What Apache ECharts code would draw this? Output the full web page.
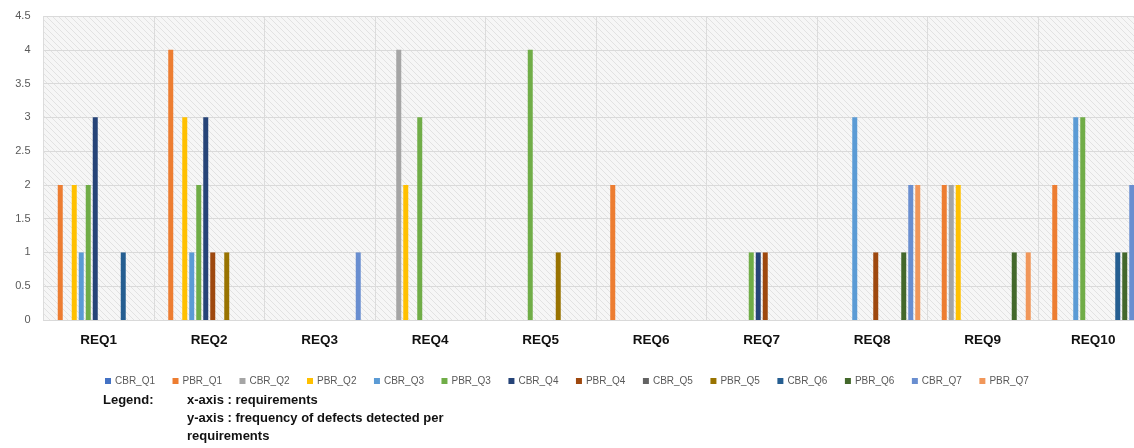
<!DOCTYPE html>
<html>
<head>
<meta charset="utf-8">
<script src="https://cdn.jsdelivr.net/npm/echarts@6/dist/echarts.min.js"></script>
<style>
html,body{margin:0;padding:0;background:#fff;overflow:hidden;}
#chart{width:1150px;height:448px;}
</style>
</head>
<body>
<div id="chart"></div>
<script>
const categories = ['REQ1','REQ2','REQ3','REQ4','REQ5','REQ6','REQ7','REQ8','REQ9','REQ10'];
const seriesNames = ['CBR_Q1','PBR_Q1','CBR_Q2','PBR_Q2','CBR_Q3','PBR_Q3','CBR_Q4','PBR_Q4','CBR_Q5','PBR_Q5','CBR_Q6','PBR_Q6','CBR_Q7','PBR_Q7'];
const seriesColors = ['#4472C4','#ED7D31','#A5A5A5','#FFC000','#5B9BD5','#70AD47','#264478','#9E480E','#636363','#997300','#255E91','#43682B','#698ED0','#F1975A'];

const CBR_Q1 = [0,0,0,0,0,0,0,0,0,0];
const PBR_Q1 = [2,4,0,0,0,2,0,0,2,2];
const CBR_Q2 = [0,0,0,4,0,0,0,0,2,0];
const PBR_Q2 = [2,3,0,2,0,0,0,0,2,0];
const CBR_Q3 = [1,1,0,0,0,0,0,3,0,3];
const PBR_Q3 = [2,2,0,3,4,0,1,0,0,3];
const CBR_Q4 = [3,3,0,0,0,0,1,0,0,0];
const PBR_Q4 = [0,1,0,0,0,0,1,1,0,0];
const CBR_Q5 = [0,0,0,0,0,0,0,0,0,0];
const PBR_Q5 = [0,1,0,0,1,0,0,0,0,0];
const CBR_Q6 = [1,0,0,0,0,0,0,0,0,1];
const PBR_Q6 = [0,0,0,0,0,0,0,1,1,1];
const CBR_Q7 = [0,0,1,0,0,0,0,2,0,2];
const PBR_Q7 = [0,0,0,0,0,0,0,2,1,0];

const seriesValues = [CBR_Q1,PBR_Q1,CBR_Q2,PBR_Q2,CBR_Q3,PBR_Q3,CBR_Q4,PBR_Q4,CBR_Q5,PBR_Q5,CBR_Q6,PBR_Q6,CBR_Q7,PBR_Q7];

// hatch pattern
const pc = document.createElement('canvas');
pc.width = 6; pc.height = 6;
const ctx = pc.getContext('2d');
ctx.fillStyle = '#f6f6f6';
ctx.fillRect(0,0,6,6);
ctx.strokeStyle = '#e2e2e2';
ctx.lineWidth = 1;
ctx.beginPath();
ctx.moveTo(-1,-1); ctx.lineTo(7,7);
ctx.moveTo(-4,2); ctx.lineTo(4,10);
ctx.moveTo(2,-4); ctx.lineTo(10,4);
ctx.stroke();

const chart = echarts.init(document.getElementById('chart'), null, {renderer:'canvas'});
const option = {
  animation: false,
  color: seriesColors,
  grid: {
    left: 43.5, right: 1.5, top: 16, bottom: 128,
    show: true,
    backgroundColor: {image: pc, repeat: 'repeat'},
    borderWidth: 0
  },
  legend: {
    data: seriesNames,
    left: 100, top: 371,
    icon: 'rect',
    itemWidth: 6, itemHeight: 6,
    itemGap: 17.5,
    textStyle: {fontFamily: 'Liberation Sans', fontSize: 10, color: '#595959', padding: [0,0,0,-1]}
  },
  xAxis: {
    type: 'category',
    data: categories,
    axisTick: {show: false},
    axisLine: {lineStyle: {color: '#d9d9d9'}},
    splitLine: {show: true, lineStyle: {color: '#dcdcdc'}},
    axisLabel: {fontFamily: 'Liberation Sans', fontWeight: 'bold', fontSize: 13.5, color: '#111', margin: 13}
  },
  yAxis: {
    type: 'value',
    min: 0, max: 4.5, interval: 0.5,
    axisLine: {show: false},
    axisTick: {show: false},
    splitLine: {lineStyle: {color: '#dadada'}},
    axisLabel: {fontFamily: 'Liberation Sans', fontSize: 11, color: '#595959', margin: 13}
  },
  series: seriesNames.map((n, i) => ({
    name: n,
    type: 'bar',
    data: seriesValues[i],
    barWidth: 5,
    barGap: '40%',
    itemStyle: {color: seriesColors[i]}
  })),
  graphic: [
    {type: 'text', left: 103, top: 394, style: {text: 'Legend:', font: 'bold 13px "Liberation Sans"', fill: '#111'}},
    {type: 'text', left: 187, top: 394, style: {text: 'x-axis : requirements', font: 'bold 13px "Liberation Sans"', fill: '#111'}},
    {type: 'text', left: 187, top: 412, style: {text: 'y-axis : frequency of defects detected per', font: 'bold 13px "Liberation Sans"', fill: '#111'}},
    {type: 'text', left: 187, top: 430, style: {text: 'requirements', font: 'bold 13px "Liberation Sans"', fill: '#111'}}
  ]
};
chart.setOption(option);
</script>
</body>
</html>
